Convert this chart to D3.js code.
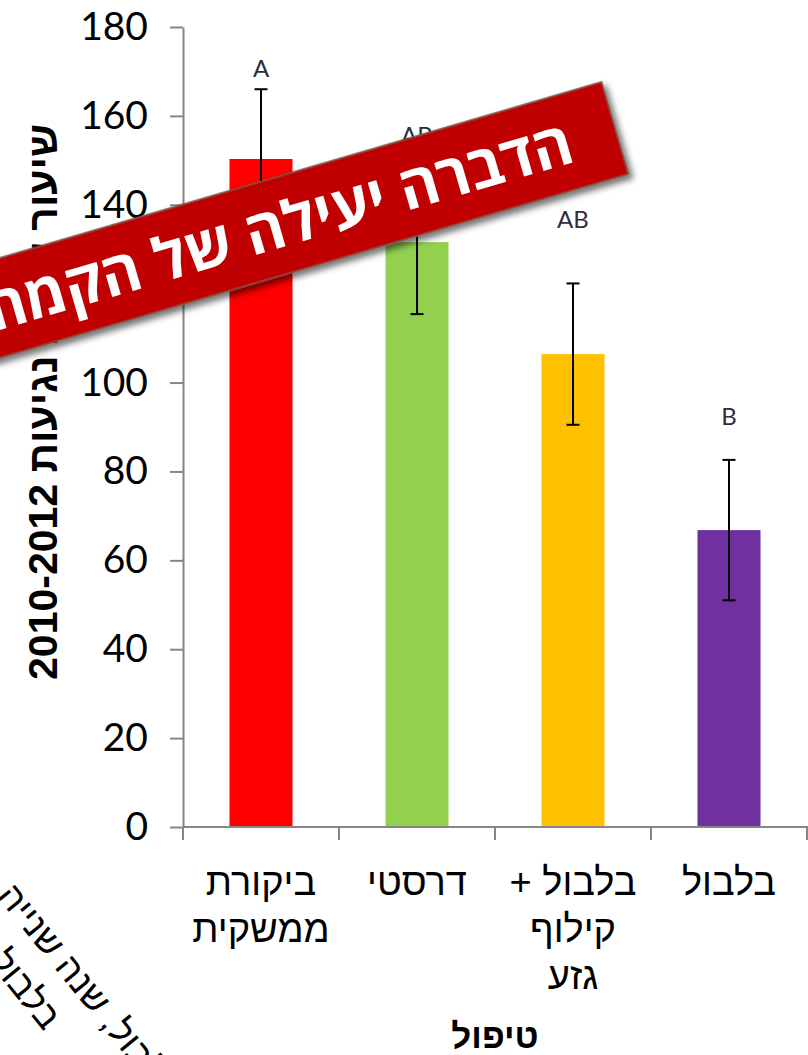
<!DOCTYPE html>
<html>
<head>
<meta charset="utf-8">
<script src="https://cdn.jsdelivr.net/npm/d3@7"></script>
<style>
  body { margin: 0; background: #fff; }
  svg { display: block; }
</style>
</head>
<body>
<div id="chart"></div>
<script>
// data
const categories = ["ביקורת ממשקית", "דרסטי", "בלבול + קילוף גזע", "בלבול"];
const categoryLines = [["ביקורת", "ממשקית"], ["דרסטי"], ["בלבול +", "קילוף", "גזע"], ["בלבול"]];
const values = [150.3, 131.6, 106.4, 66.8];
const errors = [15.7, 16.2, 15.9, 15.8];
const letters = ["A", "AB", "AB", "B"];
const letterLevels = [168.8, 153.7, 134.8, 90.5];
const barColors = ["#FF0000", "#92D050", "#FFC000", "#7030A0"];
const yTicks = [0, 20, 40, 60, 80, 100, 120, 140, 160, 180];
const yTitle = "שיעור עליית נגיעות 2010-2012";
const xTitle = "טיפול";
const bannerText = "הדברה יעילה של הקמחית";
const noteLines = ["בלבול, שנה שנייה", "בלבול, שנה ראשונה"];

const width = 808, height = 1055;
const plot = {left: 183, right: 807, top: 27, bottom: 827};

const svg = d3.select("#chart").append("svg")
    .attr("width", width)
    .attr("height", height);

const defs = svg.append("defs");
const shadow = defs.append("filter").attr("id", "shadow")
    .attr("x", "-10%").attr("y", "-30%").attr("width", "130%").attr("height", "180%");
shadow.append("feDropShadow")
    .attr("dx", 3).attr("dy", 5).attr("stdDeviation", 3)
    .attr("flood-color", "#000").attr("flood-opacity", 0.55);

let x = d3.scaleBand()
    .domain(d3.range(categories.length))
    .range([plot.left, plot.right])
    .padding(0);

let y = d3.scaleLinear()
    .domain([0, 180])
    .range([plot.bottom, plot.top]);

const barW = x.bandwidth() * 0.404;
const cx = i => x(i) + x.bandwidth() / 2;

// bars
svg.selectAll(".bar")
    .data(values)
    .enter().append("rect")
    .attr("class", "bar")
    .attr("x", (d, i) => cx(i) - barW / 2)
    .attr("y", d => y(d))
    .attr("width", barW)
    .attr("height", d => y(0) - y(d))
    .attr("fill", (d, i) => barColors[i]);

// error bars
const eb = svg.selectAll(".err")
    .data(values)
    .enter().append("g")
    .attr("class", "err")
    .attr("stroke", "#000")
    .attr("stroke-width", 2);
eb.append("line")
    .attr("x1", (d, i) => cx(i)).attr("x2", (d, i) => cx(i))
    .attr("y1", (d, i) => y(d + errors[i])).attr("y2", (d, i) => y(d - errors[i]));
eb.append("line")
    .attr("x1", (d, i) => cx(i) - 6.5).attr("x2", (d, i) => cx(i) + 6.5)
    .attr("y1", (d, i) => y(d + errors[i])).attr("y2", (d, i) => y(d + errors[i]));
eb.append("line")
    .attr("x1", (d, i) => cx(i) - 6.5).attr("x2", (d, i) => cx(i) + 6.5)
    .attr("y1", (d, i) => y(d - errors[i])).attr("y2", (d, i) => y(d - errors[i]));

// significance letters
svg.selectAll(".letter")
    .data(letters)
    .enter().append("text")
    .attr("class", "letter")
    .attr("x", (d, i) => cx(i))
    .attr("y", (d, i) => y(letterLevels[i]))
    .attr("text-anchor", "middle")
    .attr("font-family", "Lato, 'Open Sans', sans-serif")
    .attr("font-size", 24)
    .attr("fill", "#2e2e3a")
    .text(d => d);

// y axis
const yAxis = svg.append("g")
    .attr("transform", "translate(" + plot.left + ",0)")
    .call(d3.axisLeft(y).tickValues(yTicks).tickSize(13).tickSizeOuter(0).tickPadding(22));
yAxis.selectAll("path, line").attr("stroke", "#868686").attr("stroke-width", 2);
yAxis.selectAll("text")
    .attr("font-family", "Lato, 'Open Sans', sans-serif")
    .attr("font-size", 39)
    .attr("fill", "#000");

// x axis: baseline plus ticks on band edges
const xAxis = svg.append("g")
    .attr("transform", "translate(0," + plot.bottom + ")");
xAxis.append("line")
    .attr("x1", plot.left).attr("x2", plot.right + 1)
    .attr("stroke", "#868686").attr("stroke-width", 2);
const edges = d3.range(categories.length).map(i => x(i)).concat([x(categories.length - 1) + x.bandwidth()]);
xAxis.selectAll(".edge")
    .data(edges)
    .enter().append("line")
    .attr("class", "edge")
    .attr("x1", d => d).attr("x2", d => d)
    .attr("y1", 0).attr("y2", 13)
    .attr("stroke", "#868686").attr("stroke-width", 2);

const catLabels = svg.selectAll(".cat")
    .data(categoryLines)
    .enter().append("text")
    .attr("class", "cat")
    .attr("direction", "rtl")
    .attr("text-anchor", "middle")
    .attr("font-family", "'Liberation Sans', Arial, sans-serif")
    .attr("font-size", 38)
    .attr("fill", "#000");
catLabels.selectAll("tspan")
    .data((d, i) => d.map(t => ({t: t, i: i})))
    .enter().append("tspan")
    .attr("x", d => cx(d.i))
    .attr("y", (d, j) => plot.bottom + 68 + j * 47)
    .text(d => d.t);

// axis titles
svg.append("text")
    .attr("x", (plot.left + plot.right) / 2)
    .attr("y", 1048)
    .attr("text-anchor", "middle")
    .attr("direction", "rtl")
    .attr("font-family", "'Liberation Sans', Arial, sans-serif")
    .attr("font-weight", "bold")
    .attr("font-size", 35)
    .text(xTitle);

svg.append("text")
    .attr("transform", "translate(57,402) rotate(-90)")
    .attr("text-anchor", "middle")
    .attr("direction", "rtl")
    .attr("font-family", "'Liberation Sans', Arial, sans-serif")
    .attr("font-weight", "bold")
    .attr("font-size", 41)
    .text(yTitle);

// rotated note, bottom left
const note = svg.append("text")
    .attr("transform", "translate(162,1101) rotate(51)")
    .attr("direction", "rtl")
    .attr("text-anchor", "start")
    .attr("font-family", "'Liberation Sans', Arial, sans-serif")
    .attr("font-size", 36)
    .attr("fill", "#000");
note.selectAll("tspan")
    .data(noteLines)
    .enter().append("tspan")
    .attr("x", (d, i) => i * -128)
    .attr("y", (d, i) => i * 48)
    .text(d => d);

// red banner
const banner = svg.append("g")
    .attr("transform", "translate(615,128) rotate(-16.3)");
banner.append("rect")
    .attr("x", -900).attr("y", -48)
    .attr("width", 900).attr("height", 96)
    .attr("fill", "#C00000")
    .attr("stroke", "#7a5548")
    .attr("stroke-width", 1.5)
    .attr("filter", "url(#shadow)");
banner.append("text")
    .attr("x", -46).attr("y", 21)
    .attr("direction", "rtl")
    .attr("text-anchor", "start")
    .attr("font-family", "'Open Sans', 'Liberation Sans', Arial, sans-serif")
    .attr("font-weight", "bold")
    .attr("font-size", 60)
    .attr("fill", "#fff")
    .text(bannerText);
</script>
</body>
</html>
